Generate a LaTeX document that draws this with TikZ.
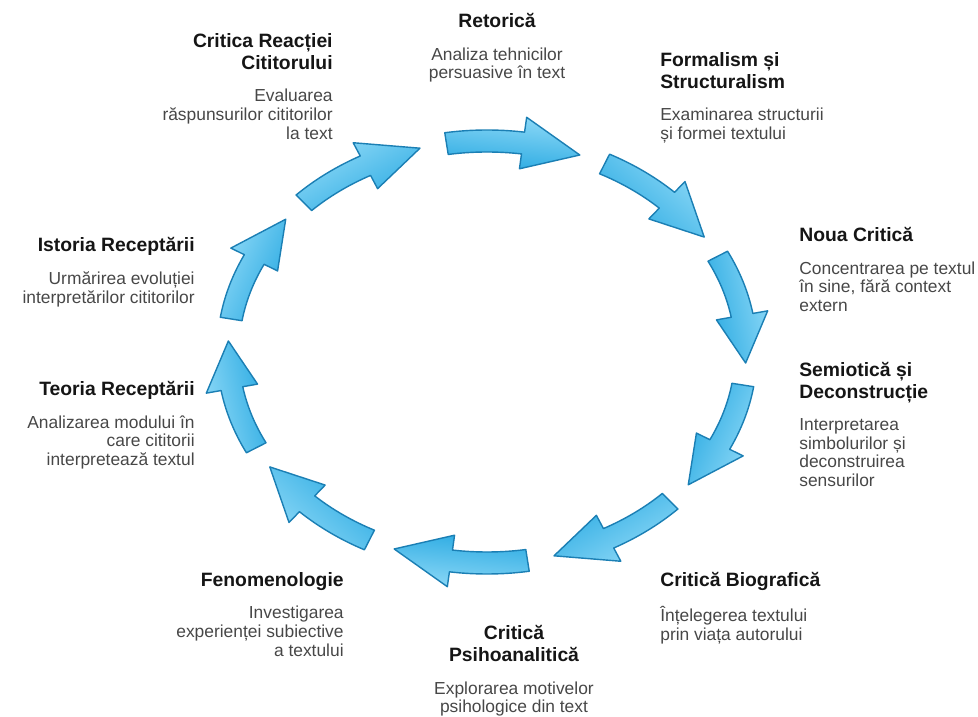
\documentclass[tikz,border=0pt]{standalone}
\usepackage{fontspec}
\setmainfont{Liberation Sans}
\usetikzlibrary{positioning}

\definecolor{arrowlight}{HTML}{8ED9F7}
\definecolor{arrowdark}{HTML}{2AAAE2}
\definecolor{arrowline}{HTML}{1B7FB4}
\definecolor{headink}{HTML}{151515}
\definecolor{blurbink}{HTML}{474747}

\tikzset{
  heading/.style={inner sep=0pt,text depth=0pt,text=headink,font=\bfseries\fontsize{11}{12.5}\selectfont},
  blurb/.style={inner sep=0pt,text=blurbink,font=\fontsize{9.9}{10.6}\selectfont},
  cyclearrow/.style={draw=arrowline,line width=0.8pt,line join=round,top color=arrowlight,bottom color=arrowdark}
}

\begin{document}
\begin{tikzpicture}[x=0.02cm,y=0.02cm]
\useasboundingbox (0,0) rectangle (978,717);

\begin{scope}[shift={(487,365)}]
\foreach \c in {84,48,12,-24,-60,-96,-132,-168,-204,-240}{
  \pgfmathsetmacro{\s}{\c+15}
  \pgfmathsetmacro{\m}{\c-2}
  \pgfmathsetmacro{\e}{\c-15}
  \path[cyclearrow,shading angle=\c-90] (\s:270 and 222) arc[start angle=\s,end angle=\m,x radius=270,y radius=222] -- (\m:285 and 237) -- (\e:259 and 211) -- (\m:233 and 185) -- (\m:248 and 200) arc[start angle=\m,end angle=\s,x radius=248,y radius=200] -- cycle;
}
\end{scope}

\node[heading,anchor=north,align=center] (ret) at (497,704) {Retorică};
\node[heading,anchor=north east,align=right] (crc) at (333,684) {Critica Reacției\\Cititorului};
\node[heading,anchor=north west,align=left] (frm) at (660,665) {Formalism și\\Structuralism};
\node[heading,anchor=north west,align=left] (nou) at (799,490) {Noua Critică};
\node[heading,anchor=north west,align=left] (sem) at (799,355) {Semiotică și\\Deconstrucție};
\node[heading,anchor=north west,align=left] (bio) at (660,145) {Critică Biografică};
\node[heading,anchor=north,align=center] (psi) at (514,92) {Critică\\Psihoanalitică};
\node[heading,anchor=north east,align=right] (fen) at (344,145) {Fenomenologie};
\node[heading,anchor=north east,align=right] (teo) at (195,336) {Teoria Receptării};
\node[heading,anchor=north east,align=right] (ist) at (195,480) {Istoria Receptării};

\node[blurb,align=center,below=11pt of ret] (retd) {Analiza tehnicilor\\persuasive în text};
\node[blurb,align=right,below left=11pt and 0pt of crc.south east] (crcd) {Evaluarea\\răspunsurilor cititorilor\\la text};
\node[blurb,align=left,below right=11pt and 0pt of frm.south west] (frmd) {Examinarea structurii\\și formei textului};
\node[blurb,align=left,below right=11pt and 0pt of nou.south west] (noud) {Concentrarea pe textul\\în sine, fără context\\extern};
\node[blurb,align=left,below right=11pt and 0pt of sem.south west] (semd) {Interpretarea\\simbolurilor și\\deconstruirea\\sensurilor};
\node[blurb,align=left,below right=11pt and 0pt of bio.south west] (biod) {Înțelegerea textului\\prin viața autorului};
\node[blurb,align=center,below=11pt of psi] (psid) {Explorarea motivelor\\psihologice din text};
\node[blurb,align=right,below left=11pt and 0pt of fen.south east] (fend) {Investigarea\\experienței subiective\\a textului};
\node[blurb,align=right,below left=11pt and 0pt of teo.south east] (teod) {Analizarea modului în\\care cititorii\\interpretează textul};
\node[blurb,align=right,below left=11pt and 0pt of ist.south east] (istd) {Urmărirea evoluției\\interpretărilor cititorilor};
\end{tikzpicture}
\end{document}
